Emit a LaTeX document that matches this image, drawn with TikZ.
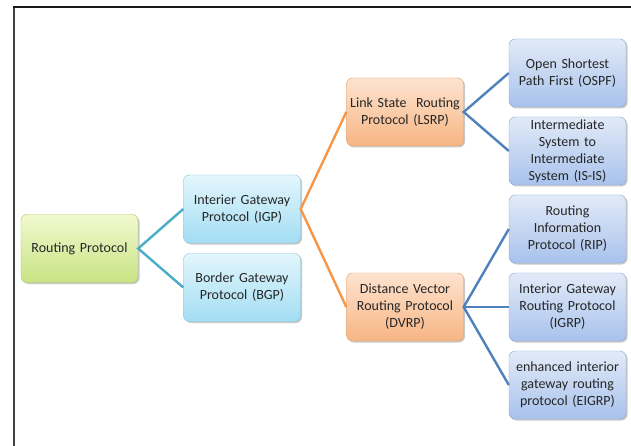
\documentclass[tikz,border=0pt]{standalone}
\usepackage{fontspec}
\setmainfont{Carlito}
\usetikzlibrary{shadows}
\definecolor{grnT}{HTML}{F1F9CF}
\definecolor{grnB}{HTML}{C9E384}
\definecolor{grnD}{HTML}{A9C46A}
\definecolor{cyaT}{HTML}{E3F6FC}
\definecolor{cyaB}{HTML}{A3DDF3}
\definecolor{cyaD}{HTML}{86C3DA}
\definecolor{orgT}{HTML}{FDE3CF}
\definecolor{orgB}{HTML}{F7B584}
\definecolor{orgD}{HTML}{D9A070}
\definecolor{bluT}{HTML}{E2EAF8}
\definecolor{bluB}{HTML}{A8C2EC}
\definecolor{bluD}{HTML}{8AA6D4}
\definecolor{tealL}{HTML}{4BACC6}
\definecolor{orgL}{HTML}{F79646}
\definecolor{bluL}{HTML}{4F81BD}
\tikzset{
  box/.style={rounded corners=6pt, minimum width=117pt, minimum height=68pt,
    text width=110pt, align=center, inner sep=1pt,
    font=\fontsize{14}{17}\selectfont, text=black!85,
    drop shadow={shadow xshift=1.5pt, shadow yshift=-1.5pt, opacity=0.35, fill=black!60}},
  gbox/.style={box, draw=grnD, top color=grnT, bottom color=grnB},
  cbox/.style={box, draw=cyaD, top color=cyaT, bottom color=cyaB},
  obox/.style={box, draw=orgD, top color=orgT, bottom color=orgB},
  bbox/.style={box, draw=bluD, top color=bluT, bottom color=bluB},
  conn/.style={line width=2.4pt},
}
\begin{document}
\begin{tikzpicture}[x=1pt,y=-1pt]
\useasboundingbox (0,0) rectangle (631,446);
\fill[white] (0,0) rectangle (631,446);
\draw[black!75, line width=1.5pt] (14,446) -- (14,7);
\draw[black!90, line width=1.5pt] (13.25,7) -- (631,7);

\node[gbox] (rp) at (79.5,248.5) {Routing Protocol};
\node[cbox] (igp) at (242,209) {Interier Gateway\\Protocol (IGP)};
\node[cbox] (bgp) at (242,287.5) {Border Gateway\\Protocol (BGP)};
\node[obox] (lsrp) at (405,112) {Link State\ \ Routing\\Protocol (LSRP)};
\node[obox] (dvrp) at (405,307) {Distance Vector\\Routing Protocol\\(DVRP)};
\node[bbox] (ospf) at (567.5,73) {Open Shortest\\Path First (OSPF)};
\node[bbox] (isis) at (567.5,151) {Intermediate\\System to\\Intermediate\\System (IS-IS)};
\node[bbox] (rip) at (567.5,229) {Routing\\Information\\Protocol (RIP)};
\node[bbox] (igrp) at (567.5,307) {Interior Gateway\\Routing Protocol\\(IGRP)};
\node[bbox] (eigrp) at (567.5,385) {enhanced interior\\gateway routing\\protocol (EIGRP)};

\draw[conn, tealL] (igp.west) -- (rp.east) -- (bgp.west);
\draw[conn, orgL] (lsrp.west) -- (igp.east) -- (dvrp.west);
\draw[conn, bluL] (ospf.west) -- (lsrp.east) -- (isis.west);
\draw[conn, bluL] (rip.west) -- (dvrp.east) -- (eigrp.west);
\draw[conn, bluL] (dvrp.east) -- (igrp.west);
\end{tikzpicture}
\end{document}
